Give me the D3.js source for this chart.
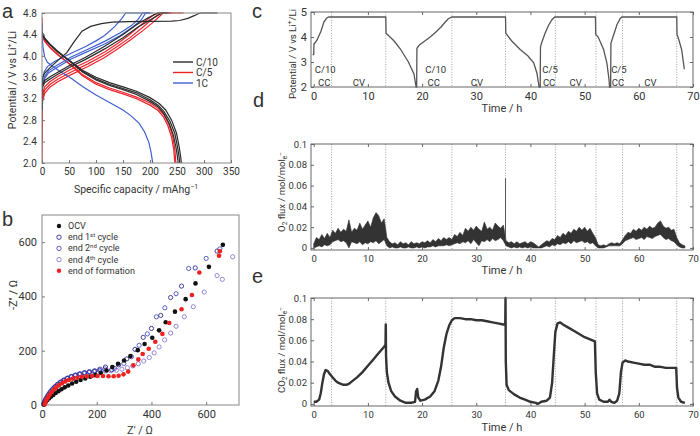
<!DOCTYPE html>
<html><head><meta charset="utf-8">
<script src="https://cdn.jsdelivr.net/npm/d3@7"></script>
<style>
body{margin:0;background:#fff}
svg{display:block}
text{font-family:Roboto,"Open Sans",sans-serif;fill:#333}
</style>
</head><body>
<script>
// ================= DATA =================
// Panel a: [capacity mAh/g, potential V]
const aC10Charge = [
 [[0,3.00],[1,3.60],[5,3.68],[15,3.78],[30,3.92],[46,4.06],[60,4.27],[74,4.46],[90,4.55],[110,4.60],[130,4.63],[160,4.64],[200,4.645],[240,4.65],[255,4.66],[270,4.70],[282,4.75],[290,4.79],[295,4.80],[325,4.80]],
 [[0,3.00],[1,3.42],[5,3.50],[15,3.57],[30,3.66],[54,3.80],[80,3.93],[116,4.13],[150,4.34],[178,4.54],[200,4.67],[215,4.76],[222,4.80],[235,4.80]],
 [[0,3.00],[1,3.45],[5,3.54],[15,3.61],[30,3.70],[54,3.84],[80,3.97],[116,4.18],[150,4.40],[175,4.58],[195,4.70],[210,4.78],[215,4.80],[230,4.80]]
];
const aC10Discharge = [
 [[0,4.45],[5,4.33],[15,4.22],[30,4.08],[54,3.88],[75,3.70],[100,3.55],[125,3.45],[150,3.37],[175,3.28],[200,3.15],[215,3.05],[225,2.93],[235,2.75],[243,2.53],[248,2.30],[251,2.10],[252,2.00]],
 [[0,4.43],[5,4.32],[15,4.21],[30,4.07],[54,3.88],[75,3.71],[100,3.57],[125,3.47],[150,3.39],[175,3.31],[200,3.18],[215,3.08],[226,2.96],[237,2.78],[246,2.55],[251,2.30],[254,2.10],[255,2.00]],
 [[0,4.42],[5,4.31],[15,4.20],[30,4.06],[54,3.89],[75,3.73],[100,3.60],[125,3.50],[150,3.42],[175,3.34],[200,3.22],[217,3.11],[229,2.99],[240,2.80],[249,2.56],[254,2.30],[257,2.10],[258,2.00]]
];
const aC5Charge = [
 [[0,2.00],[0.5,3.00],[1,3.15],[5,3.30],[15,3.42],[30,3.52],[54,3.65],[85,3.80],[116,3.97],[140,4.13],[163,4.29],[188,4.48],[205,4.62],[218,4.74],[224,4.80],[262,4.80]],
 [[0,2.40],[0.5,3.05],[1,3.22],[5,3.36],[15,3.47],[30,3.57],[54,3.70],[85,3.85],[116,4.02],[140,4.18],[163,4.34],[185,4.52],[200,4.65],[212,4.75],[220,4.80],[240,4.80]],
 [[0,2.60],[0.5,3.10],[1,3.28],[5,3.42],[15,3.52],[30,3.62],[54,3.75],[85,3.90],[116,4.07],[140,4.23],[160,4.38],[180,4.55],[195,4.68],[208,4.77],[215,4.80],[235,4.80]]
];
const aC5Discharge = [
 [[0,4.72],[0.3,4.40],[5,4.28],[15,4.16],[30,4.02],[54,3.82],[75,3.63],[100,3.47],[125,3.37],[150,3.29],[175,3.20],[200,3.08],[215,2.98],[225,2.86],[233,2.70],[240,2.48],[244,2.25],[246,2.00]],
 [[0,4.60],[0.3,4.38],[5,4.27],[15,4.15],[30,4.01],[54,3.83],[75,3.65],[100,3.50],[125,3.40],[150,3.32],[175,3.23],[200,3.12],[215,3.02],[226,2.90],[235,2.72],[242,2.50],[246,2.25],[248,2.00]]
];
const a1CCharge = [
 [[0,3.00],[0.5,3.35],[1,3.55],[4,3.70],[10,3.80],[24,3.90],[54,4.05],[80,4.17],[100,4.28],[116,4.38],[135,4.55],[148,4.70],[155,4.80],[200,4.80]],
 [[0,3.00],[0.5,3.30],[1,3.48],[5,3.62],[12,3.72],[24,3.80],[54,3.98],[80,4.10],[116,4.27],[145,4.43],[165,4.56],[178,4.68],[186,4.80],[205,4.80]],
 [[0,3.00],[0.5,3.30],[1,3.45],[5,3.58],[12,3.68],[24,3.76],[54,3.94],[80,4.06],[116,4.22],[145,4.38],[168,4.54],[183,4.66],[192,4.80],[200,4.80]]
];
const a1CDischarge = [
 [[0,4.60],[0.3,4.35],[2,4.15],[5,3.98],[10,3.88],[20,3.80],[35,3.70],[54,3.58],[75,3.43],[100,3.27],[125,3.13],[150,2.99],[165,2.88],[180,2.74],[190,2.58],[198,2.38],[202,2.20],[205,2.00]]
];
const aRates = ["C/10","C/5","1C"];

// Panel b: [Z' ohm, -Z'' ohm]
const bOCV = [[8,2],[11,7],[15,13],[20,19],[26,25],[33,31],[41,37],[50,44],[60,51],[71,58],[83,65],[96,72],[110,79],[125,86],[141,92],[158,98],[176,104],[195,110],[215,118],[236,127],[257,140],[278,152],[300,164],[323,180],[350,202],[375,225],[403,248],[428,275],[452,305],[486,344],[525,390],[561,448],[610,509],[661,590]];
const bEnd1 = [[6,3],[9,11],[13,20],[18,29],[24,39],[31,49],[39,59],[48,68],[58,77],[69,85],[81,92],[94,99],[108,105],[123,110],[139,114],[156,118],[174,122],[193,126],[212,132],[232,140],[255,130],[280,148],[310,170],[340,205],[370,249],[400,282],[434,330],[470,396],[510,438],[560,505],[640,567]];
const bEnd2 = [[7,5],[10,14],[15,24],[21,34],[28,45],[36,55],[45,65],[55,74],[66,83],[78,91],[91,98],[105,104],[120,109],[136,114],[153,118],[171,121],[190,124],[210,128],[230,133],[265,135],[299,153],[327,178],[355,220],[385,262],[418,325],[449,358],[490,410],[536,503],[600,540],[650,575]];
const bEnd4 = [[6,2],[9,8],[13,16],[18,25],[24,34],[31,44],[39,54],[48,64],[58,73],[69,82],[81,90],[94,98],[108,105],[123,110],[139,115],[156,119],[174,122],[193,124],[212,125],[232,125],[252,126],[272,128],[292,132],[312,137],[332,144],[352,152],[372,162],[392,175],[410,192],[428,214],[448,240],[470,265],[490,290],[520,325],[553,362],[593,416],[640,477],[659,463],[697,546]];
const bForm = [[10,3],[13,11],[17,20],[22,29],[28,38],[35,47],[43,56],[52,65],[62,73],[73,80],[85,87],[98,92],[113,97],[129,101],[146,104],[164,106],[183,107],[203,107],[223,107],[243,106],[262,106],[280,108],[298,113],[315,123],[334,146],[352,168],[368,188],[390,207],[414,233],[440,262],[465,302],[510,353],[548,405],[575,488],[647,550],[650,566]];
const bLegend = ["OCV","end 1st cycle","end 2nd cycle","end 4th cycle","end of formation"];

// Panel c: [time h, potential V]
const cPot = [[-0.2,3.28],[0,3.30],[0.05,3.72],[0.6,3.87],[1.3,4.21],[1.9,4.61],[2.4,4.76],[2.8,4.80],[13.3,4.80],[13.35,4.15],[14.8,3.85],[16,3.52],[17.5,2.99],[18.5,2.52],[18.9,2.00],[19.0,2.00],[19.05,3.55],[19.5,3.68],[20.5,3.84],[21.5,4.00],[22.5,4.19],[23.5,4.40],[24.2,4.58],[24.8,4.72],[25.5,4.80],[35.4,4.80],[35.45,4.15],[36.5,3.85],[38.1,3.50],[39.5,3.25],[40.6,2.97],[41.2,2.55],[41.6,2.00],[41.8,2.00],[41.85,3.60],[42.1,3.79],[42.7,4.15],[43.3,4.45],[44.0,4.70],[44.5,4.80],[52.0,4.80],[52.05,4.10],[52.5,4.00],[53.5,3.50],[54.1,2.97],[54.5,2.30],[54.6,2.00],[54.8,2.00],[54.85,3.75],[55.3,4.05],[56.0,4.51],[56.6,4.75],[56.9,4.80],[67.0,4.80],[67.05,4.10],[67.3,3.95],[67.9,3.50],[68.4,2.71]];
const stepLines = [3.3,13.3,25.5,35.4,44.6,52.1,57.0,67.0];
const cLabels = [["C/10",0.2,2.7],["CC",0.8,2.2],["CV",7.2,2.2],["C/10",20.6,2.7],["CC",21.0,2.2],["CV",29.0,2.2],["C/5",42.2,2.7],["CC",42.3,2.2],["CV",47.2,2.2],["C/5",54.9,2.7],["CC",55.0,2.2],["CV",61.0,2.2]];
const timeTicks = [0,10,20,30,40,50,60,70];

// Panel d: O2 flux band [time h, low, high]
const dO2 = [[0,0.000,0.004],[0.5,0.001,0.010],[1,0.002,0.008],[1.5,0.001,0.013],[2,0.003,0.009],[2.5,0.002,0.014],[3,0.003,0.010],[3.5,0.006,0.017],[4,0.007,0.014],[4.5,0.008,0.019],[5,0.006,0.015],[5.5,0.007,0.018],[6,0.005,0.016],[6.5,0.000,0.027],[7,0.006,0.015],[7.5,0.005,0.019],[8,0.004,0.017],[8.5,0.006,0.024],[9,0.003,0.018],[9.5,0.005,0.022],[10,0.004,0.026],[10.5,0.006,0.020],[11,0.005,0.029],[11.5,0.007,0.034],[12,0.004,0.031],[12.5,0.006,0.024],[13,0.008,0.028],[13.5,0.002,0.010],[14,0.000,0.006],[14.5,0.001,0.004],[15,0.000,0.005],[15.5,0.000,0.003],[16,0.001,0.006],[16.5,0.000,0.004],[17,0.000,0.005],[17.5,0.001,0.003],[18,0.000,0.006],[18.5,0.000,0.004],[19,0.001,0.005],[19.5,0.000,0.004],[20,0.001,0.006],[20.5,0.000,0.005],[21,0.001,0.007],[21.5,0.001,0.005],[22,0.002,0.008],[22.5,0.001,0.006],[23,0.002,0.009],[23.5,0.002,0.007],[24,0.002,0.010],[24.5,0.003,0.008],[25,0.002,0.010],[25.5,0.003,0.008],[26,0.004,0.013],[26.5,0.005,0.011],[27,0.004,0.015],[27.5,0.006,0.012],[28,0.005,0.019],[28.5,0.007,0.016],[29,0.004,0.020],[29.5,0.008,0.017],[30,0.005,0.021],[30.5,0.002,0.018],[31,0.007,0.016],[31.5,0.006,0.025],[32,0.008,0.018],[32.5,0.006,0.020],[33,0.009,0.017],[33.5,0.007,0.024],[34,0.008,0.021],[34.5,0.010,0.019],[35,0.007,0.022],[35.5,0.002,0.007],[36,0.001,0.005],[36.5,0.000,0.006],[37,0.001,0.004],[37.5,0.000,0.006],[38,0.001,0.004],[38.5,0.000,0.005],[39,0.001,0.006],[39.5,0.000,0.004],[40,0.001,0.006],[40.5,0.000,0.005],[41,0.000,0.003],[41.5,0.000,0.001],[42,0.000,0.003],[42.5,0.001,0.005],[43,0.002,0.007],[43.5,0.001,0.006],[44,0.003,0.009],[44.5,0.002,0.008],[45,0.004,0.012],[45.5,0.003,0.010],[46,0.005,0.014],[46.5,0.004,0.012],[47,0.006,0.016],[47.5,0.004,0.014],[48,0.007,0.018],[48.5,0.005,0.016],[49,0.006,0.020],[49.5,0.007,0.017],[50,0.005,0.020],[50.5,0.006,0.016],[51,0.004,0.019],[51.5,0.005,0.014],[52,0.002,0.010],[52.5,0.000,0.003],[53,0.000,0.002],[53.5,0.000,0.003],[54,0.001,0.002],[54.5,0.002,0.004],[55,0.002,0.005],[55.5,0.002,0.004],[56,0.002,0.005],[56.5,0.002,0.004],[57,0.004,0.008],[57.5,0.007,0.012],[58,0.008,0.015],[58.5,0.009,0.014],[59,0.010,0.018],[59.5,0.008,0.016],[60,0.009,0.019],[60.5,0.010,0.017],[61,0.008,0.020],[61.5,0.011,0.018],[62,0.010,0.021],[62.5,0.009,0.019],[63,0.011,0.020],[63.5,0.012,0.024],[64,0.013,0.026],[64.5,0.010,0.021],[65,0.008,0.019],[65.5,0.009,0.020],[66,0.007,0.017],[66.5,0.006,0.018],[67,0.003,0.010],[67.5,0.001,0.005],[68,0.000,0.003],[68.5,0.000,0.002]];
const dSpike = [35.4,0.007,0.067];

// Panel e: CO2 flux [time h, value]
const eCO2 = [[0,0.002],[0.5,0.002],[1,0.004],[1.3,0.010],[1.6,0.020],[1.9,0.028],[2.2,0.032],[2.6,0.031],[3,0.028],[3.5,0.025],[4,0.022],[4.5,0.020],[5,0.019],[5.5,0.018],[6,0.018],[6.5,0.019],[7,0.021],[8,0.025],[9,0.030],[10,0.036],[11,0.042],[12,0.048],[13,0.054],[13.25,0.056],[13.3,0.075],[13.35,0.045],[13.5,0.030],[13.8,0.020],[14.3,0.012],[15,0.007],[16,0.003],[17,0.001],[18,0.001],[18.7,0.002],[18.9,0.012],[19.1,0.014],[19.3,0.006],[19.7,0.003],[20.5,0.004],[21.5,0.007],[22.3,0.012],[23,0.022],[23.5,0.035],[24,0.053],[24.5,0.066],[25,0.074],[25.5,0.079],[26,0.081],[27,0.081],[28,0.080],[29,0.080],[30,0.079],[31,0.079],[32,0.078],[33,0.077],[34,0.076],[35,0.075],[35.35,0.075],[35.4,0.100],[35.45,0.040],[35.6,0.018],[36,0.013],[37,0.009],[38,0.006],[39,0.004],[40,0.002],[41,0.001],[41.3,0.000],[41.7,0.001],[42,0.002],[43,0.003],[43.6,0.006],[44,0.020],[44.3,0.045],[44.6,0.068],[45,0.076],[45.5,0.077],[46,0.075],[47,0.072],[48,0.069],[49,0.066],[50,0.063],[51,0.061],[51.9,0.059],[52.05,0.030],[52.3,0.010],[52.7,0.004],[53.5,0.002],[54.3,0.002],[54.6,0.004],[54.9,0.002],[55.5,0.001],[56,0.003],[56.4,0.010],[56.7,0.030],[57,0.039],[57.5,0.041],[58,0.040],[59,0.039],[60,0.038],[61,0.037],[62,0.037],[63,0.035],[64,0.035],[65,0.034],[66,0.034],[66.9,0.034],[67.05,0.015],[67.3,0.006],[67.8,0.002],[68.5,0.001]];
const fluxTicks = [0,0.02,0.04,0.06,0.08,0.1];

// ================= DRAW =================
const svg = d3.select("body").append("svg").attr("width",700).attr("height",436);
svg.append("rect").attr("width",700).attr("height",436).attr("fill","#fff");

function frame(x,y,color){
  const [x0,x1]=x.range(),[yb,yt]=y.range();
  svg.append("rect").attr("x",x0).attr("y",yt).attr("width",x1-x0).attr("height",yb-yt)
    .attr("fill","none").attr("stroke",color).attr("stroke-width",1);
}
function axes(x,y,o){
  const [x0,x1]=x.range(),[yb,yt]=y.range();
  const style=(g,labels)=>{
    g.select(".domain").remove();
    g.selectAll("line").attr("stroke",o.tc||"#666");
    g.selectAll("text").style("font-size",o.fs+"px").attr("fill","#333")
      .style("font-family","Roboto,sans-serif");
    if(!labels) g.selectAll("text").remove();
  };
  svg.append("g").attr("transform",`translate(0,${yb})`)
    .call(d3.axisBottom(x).tickValues(o.xt).tickSize(-o.tl).tickPadding(o.xp).tickFormat(o.xf))
    .call(g=>style(g,true));
  svg.append("g").attr("transform",`translate(${x0},0)`)
    .call(d3.axisLeft(y).tickValues(o.yt).tickSize(-o.tl).tickPadding(o.yp).tickFormat(o.yf))
    .call(g=>style(g,true));
  if(o.mirror){
    svg.append("g").attr("transform",`translate(0,${yt})`)
      .call(d3.axisTop(x).tickValues(o.xt).tickSize(-o.tl)).call(g=>style(g,false));
    svg.append("g").attr("transform",`translate(${x1},0)`)
      .call(d3.axisRight(y).tickValues(o.yt).tickSize(-o.tl)).call(g=>style(g,false));
  }
}
function letter(t,x,y){
  svg.append("text").attr("x",x).attr("y",y).text(t)
    .style("font-family","'Liberation Sans',Arial,sans-serif").style("font-size","20px").attr("fill","#111");
}
function vlabel(x,y,size,parts){
  const t=svg.append("text").attr("transform",`translate(${x},${y}) rotate(-90)`)
    .attr("text-anchor","middle").style("font-size",size+"px");
  parts.forEach(p=>{
    const s=t.append("tspan").text(p[0]);
    if(p[1]) s.attr("dy",p[1]);
    if(p[2]) s.style("font-size",p[2]+"px");
  });
  return t;
}

// ---------- Panel a ----------
const xA=d3.scaleLinear([0,350],[42,231]);
const yA=d3.scaleLinear([2.0,4.8],[163,13]);
const lineA=d3.line().x(d=>xA(d[0])).y(d=>yA(d[1]));
const aCol={"C/10":"#2a2a2a","C/5":"#ee2028","1C":"#3f5fcf"};
svg.append("clipPath").attr("id","clipA").append("rect")
  .attr("x",42).attr("y",12).attr("width",189).attr("height",152);
const ga=svg.append("g").attr("clip-path","url(#clipA)");
[[aC5Charge,"C/5"],[aC5Discharge,"C/5"],[a1CCharge,"1C"],[a1CDischarge,"1C"],[aC10Charge,"C/10"],[aC10Discharge,"C/10"]]
 .forEach(([set,r])=>set.forEach(c=>ga.append("path").attr("d",lineA(c)).attr("fill","none")
   .attr("stroke",aCol[r]).attr("stroke-width",1.2)));
frame(xA,yA,"#888");
axes(xA,yA,{xt:d3.range(0,351,50),yt:[2.0,2.4,2.8,3.2,3.6,4.0,4.4,4.8],tl:3,xp:5,yp:5,fs:10,
  xf:d3.format("d"),yf:d3.format(".1f"),tc:"#777"});
aRates.forEach((r,i)=>{
  const yy=62+i*10.5;
  svg.append("line").attr("x1",173).attr("x2",193).attr("y1",yy).attr("y2",yy).attr("stroke",aCol[r]).attr("stroke-width",1.4);
  svg.append("text").attr("x",196).attr("y",yy+3.5).text(r).style("font-size","10px");
});
svg.append("text").attr("x",136).attr("y",193).attr("text-anchor","middle").style("font-size","10.5px")
  .call(t=>{t.append("tspan").text("Specific capacity / mAhg");t.append("tspan").text("−1").attr("dy",-4).style("font-size","7px");});
vlabel(16,80,10.5,[["Potential / V vs Li"],["+",-4,7],["/Li",4]]);
letter("a",2,18);

// ---------- Panel b ----------
const xB=d3.scaleLinear([0,720],[42,239]);
const yB=d3.scaleLinear([0,700],[405,215]);
frame(xB,yB,"#888");
axes(xB,yB,{xt:[0,200,400,600],yt:[0,200,400,600],tl:3,xp:5,yp:5,fs:11,xf:d3.format("d"),yf:d3.format("d"),tc:"#777"});
const bSeries=[
  {d:bEnd4,c:"#8a78d6",f:false},
  {d:bEnd2,c:"#4b4fc0",f:false},
  {d:bEnd1,c:"#2e2e92",f:false},
  {d:bOCV,c:"#111",f:true},
  {d:bForm,c:"#ee2222",f:true}
];
bSeries.forEach(s=>svg.append("g").selectAll("circle").data(s.d).join("circle")
  .attr("cx",d=>xB(d[0])).attr("cy",d=>yB(d[1])).attr("r",s.f?2.3:2.1)
  .attr("fill",s.f?s.c:"none").attr("stroke",s.c).attr("stroke-width",s.f?0:0.9));
const legB=[{c:"#111",f:true},{c:"#2e2e92",f:false},{c:"#4b4fc0",f:false},{c:"#8a78d6",f:false},{c:"#ee2222",f:true}];
bLegend.forEach((t,i)=>{
  const yy=226+i*11.2;
  svg.append("circle").attr("cx",59).attr("cy",yy).attr("r",2.2).attr("fill",legB[i].f?legB[i].c:"none")
    .attr("stroke",legB[i].c).attr("stroke-width",legB[i].f?0:0.9);
  const tx=svg.append("text").attr("x",68).attr("y",yy+3).style("font-size","9px");
  const m=t.match(/^(end )(\d)(st|nd|th)( cycle)$/);
  if(m){tx.append("tspan").text(m[1]+m[2]);tx.append("tspan").text(m[3]).attr("dy",-3).style("font-size","6px");tx.append("tspan").text(m[4]).attr("dy",3);}
  else tx.text(t);
});
svg.append("text").attr("x",140).attr("y",434).attr("text-anchor","middle").style("font-size","11px").text("Z' / Ω");
vlabel(17,295,11,[["-Z'' / Ω"]]);
letter("b",2,226);

// ---------- Panels c, d, e ----------
const xT=d3.scaleLinear([-0.5,70],[311,693]);
function dotted(y){
  svg.append("g").selectAll("line").data(stepLines).join("line")
    .attr("x1",d=>xT(d)).attr("x2",d=>xT(d)).attr("y1",y.range()[1]).attr("y2",y.range()[0])
    .attr("stroke","#888").attr("stroke-width",0.8).attr("stroke-dasharray","1,1.6");
}
const fluxFmt=d=>d===0?"0":(d===0.1?"0.1":d3.format(".2f")(d));

// c
const yC=d3.scaleLinear([2,5],[87,12]);
dotted(yC);
svg.append("path").attr("d",d3.line().x(d=>xT(d[0])).y(d=>yC(d[1]))(cPot))
  .attr("fill","none").attr("stroke","#555").attr("stroke-width",1.3);
frame(xT,yC,"#666");
axes(xT,yC,{xt:timeTicks,yt:[2,3,4,5],tl:3,xp:5,yp:4,fs:11,xf:d3.format("d"),yf:d3.format("d"),mirror:true});
cLabels.forEach(l=>svg.append("text").attr("x",xT(l[1])).attr("y",yC(l[2])+3.5).text(l[0]).style("font-size","9.5px").attr("fill","#444"));
svg.append("text").attr("x",502).attr("y",112).attr("text-anchor","middle").style("font-size","11px").text("Time / h");
vlabel(296,54,9.6,[["Potential / V vs Li"],["+",-4,7],["/Li",4]]);
letter("c",252,18);

// d
const yD=d3.scaleLinear([-0.002,0.1],[250,144]);
dotted(yD);
svg.append("path").attr("d",d3.area().x(d=>xT(d[0])).y0(d=>yD(d[1])).y1(d=>yD(d[2]))(dO2))
  .attr("fill","#333").attr("stroke","#333").attr("stroke-width",0.6).attr("stroke-linejoin","bevel");
svg.append("line").attr("x1",xT(dSpike[0])).attr("x2",xT(dSpike[0])).attr("y1",yD(dSpike[1])).attr("y2",yD(dSpike[2]))
  .attr("stroke","#555").attr("stroke-width",1);
frame(xT,yD,"#666");
axes(xT,yD,{xt:timeTicks,yt:fluxTicks,tl:3,xp:5,yp:4,fs:9.5,xf:d3.format("d"),yf:fluxFmt,mirror:true});
svg.append("text").attr("x",502).attr("y",274).attr("text-anchor","middle").style("font-size","11px").attr("fill","#777").text("Time / h");
vlabel(285,192,9.5,[["O"],["2",2,6.5],[" flux / mol/mol",-2],["e",2,6.5],["−",-4,6.5]]);
letter("d",253,107);

// e
const yE=d3.scaleLinear([-0.002,0.1],[406,298]);
dotted(yE);
svg.append("path").attr("d",d3.line().x(d=>xT(d[0])).y(d=>yE(d[1]))(eCO2))
  .attr("fill","none").attr("stroke","#333").attr("stroke-width",2.4).attr("stroke-linejoin","round");
frame(xT,yE,"#666");
axes(xT,yE,{xt:timeTicks,yt:fluxTicks,tl:3,xp:5,yp:4,fs:9.5,xf:d3.format("d"),yf:fluxFmt,mirror:true});
svg.append("text").attr("x",502).attr("y",431).attr("text-anchor","middle").style("font-size","11px").text("Time / h");
vlabel(285,350,9.5,[["CO"],["2",2,6.5],[" flux / mol/mol",-2],["e",2,6.5],["−",-4,6.5]]);
letter("e",252,283);
</script>
</body></html>
